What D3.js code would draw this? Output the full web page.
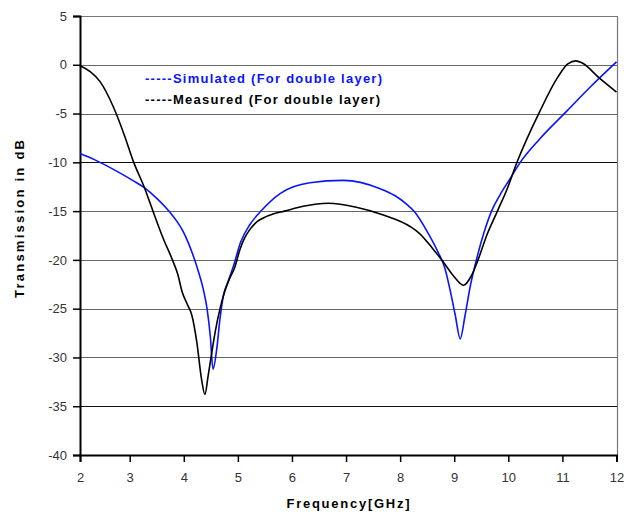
<!DOCTYPE html>
<html><head><meta charset="utf-8">
<script src="https://cdn.jsdelivr.net/npm/d3@7"></script>
<style>body{margin:0;background:#fff}</style>
</head><body>
<svg id="c" width="631" height="512"></svg>
<script>
const xTicks = [2,3,4,5,6,7,8,9,10,11,12];
const yTicks = [5,0,-5,-10,-15,-20,-25,-30,-35,-40];
const legendLabels = ["-----Simulated (For double layer)", "-----Measured (For double layer)"];

const simFreq = [2.0,2.30,2.70,3.07,3.27,3.52,3.74,3.88,3.98,4.08,4.17,4.26,4.36,4.43,4.49,4.54,4.61,4.67,4.73,4.82,4.92,5.05,5.22,5.41,5.78,6.33,6.95,7.63,7.9,8.1,8.27,8.49,8.70,8.83,8.92,9.02,9.11,9.20,9.30,9.41,9.55,9.69,9.85,10.03,10.22,10.58,11.09,11.51,12.0];
const simDb   = [-9.1,-9.75,-10.8,-11.9,-12.6,-13.8,-15.1,-16.1,-17.0,-18.2,-19.5,-21,-23,-25,-27.8,-31.2,-29.1,-26,-23.7,-22.2,-20.6,-18.2,-16.4,-15.1,-13.2,-12.1,-11.85,-12.7,-13.4,-14.2,-15.1,-17,-19.2,-20.9,-23,-25.7,-28.1,-25.7,-22.6,-20,-17.2,-15,-13.3,-11.7,-10,-7.6,-4.7,-2.3,0.3];

const measFreq = [2.0,2.205,2.40,2.67,2.905,3.06,3.28,3.43,3.62,3.79,3.89,3.97,4.06,4.15,4.24,4.33,4.39,4.45,4.52,4.58,4.67,4.76,4.84,4.94,5.04,5.13,5.22,5.35,5.47,5.65,5.86,6.21,6.67,7.19,7.69,8.19,8.36,8.61,8.77,8.98,9.17,9.32,9.44,9.60,9.79,9.98,10.16,10.58,10.90,11.10,11.25,11.36,11.69,12.0];
const measDb   = [-0.1,-0.7,-1.7,-4.3,-7.4,-9.8,-12.7,-15,-17.8,-20,-21.5,-23.3,-24.5,-25.7,-28.4,-32.3,-33.8,-31.9,-29.4,-27.4,-25,-23.2,-22,-20.8,-18.9,-17.7,-16.9,-16.1,-15.7,-15.3,-15.0,-14.5,-14.2,-14.6,-15.4,-16.6,-17.3,-18.9,-20,-21.6,-22.6,-21.6,-20,-17.5,-15.1,-12.7,-10,-4.8,-1.4,0.1,0.4,0.2,-1.4,-2.8];

const svg = d3.select("#c");
const L = 80, R = 617, T = 16, B = 455;
const x = d3.scaleLinear().domain([2,3,12]).range([80,129.7,616.5]);
const y = d3.scaleLinear().domain([-40,5]).range([B,T]);

// gridlines
svg.append("g").selectAll("line").data(yTicks.filter(d=>d!==-40 && d!==5)).join("line")
  .attr("x1",L).attr("x2",R).attr("y1",d=>Math.round(y(d))+0.5).attr("y2",d=>Math.round(y(d))+0.5)
  .attr("stroke",d=>(d===-10||d===-35)?"#111":"#666").attr("stroke-width",1.2);
// top & right border
svg.append("line").attr("x1",L).attr("x2",R).attr("y1",T+0.5).attr("y2",T+0.5).attr("stroke","#777").attr("stroke-width",1.2);
svg.append("line").attr("x1",R+0.5).attr("x2",R+0.5).attr("y1",T).attr("y2",B).attr("stroke","#777").attr("stroke-width",1.2);

// axes
const yAxis = d3.axisLeft(y).tickValues(yTicks).tickSize(7).tickPadding(6);
const gy = svg.append("g").attr("transform",`translate(${L},0)`).call(yAxis);
const xAxis = d3.axisBottom(x).tickValues(xTicks).tickSize(7).tickPadding(11);
const gx = svg.append("g").attr("transform",`translate(0,${B})`).call(xAxis);
[gx,gy].forEach(g=>{
  g.select(".domain").attr("stroke","#000").attr("stroke-width",2);
  g.selectAll(".tick line").attr("stroke","#000").attr("stroke-width",1.5);
  g.selectAll(".tick text").attr("font-family","Liberation Sans, Arial, sans-serif").attr("font-size",13).attr("fill","#333");
});
gy.selectAll(".tick text").text(d=>d<0 ? "-"+Math.abs(d) : d);

// lines
const line = d3.line().x(d=>x(d[0])).y(d=>y(d[1])).curve(d3.curveMonotoneX);
const sim = simFreq.map((f,i)=>[f,simDb[i]]);
const meas = measFreq.map((f,i)=>[f,measDb[i]]);
svg.append("path").datum(sim).attr("d",line).attr("fill","none").attr("stroke","#0a14ff").attr("stroke-width",1.6);
svg.append("path").datum(meas).attr("d",line).attr("fill","none").attr("stroke","#000").attr("stroke-width",1.6);

// legend (text-only)
const lg = svg.append("g").attr("font-family","Liberation Sans, Arial, sans-serif").attr("font-weight","bold").attr("font-size",13);
lg.append("text").attr("x",145).attr("y",83).attr("fill","#0a14ff").attr("textLength",237).attr("lengthAdjust","spacing").text(legendLabels[0]);
lg.append("text").attr("x",145).attr("y",104).attr("fill","#000").attr("textLength",235).attr("lengthAdjust","spacing").text(legendLabels[1]);

// axis titles
svg.append("text").attr("x",348).attr("y",508).attr("text-anchor","middle")
  .attr("font-family","Liberation Sans, Arial, sans-serif").attr("font-weight","bold").attr("font-size",13)
  .attr("textLength",123).attr("lengthAdjust","spacing").text("Frequency[GHz]");
svg.append("text").attr("transform","translate(24,219) rotate(-90)").attr("text-anchor","middle")
  .attr("font-family","Liberation Sans, Arial, sans-serif").attr("font-weight","bold").attr("font-size",13)
  .attr("textLength",158).attr("lengthAdjust","spacing").text("Transmission in dB");
</script>
</body></html>
